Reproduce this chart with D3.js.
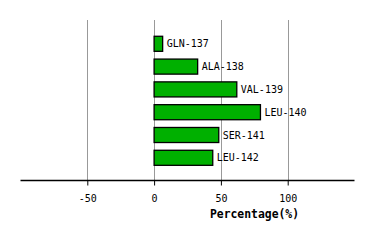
<!DOCTYPE html>
<html>
<head>
<meta charset="utf-8">
<script src="https://cdn.jsdelivr.net/npm/d3@7"></script>
<style>
  body { margin: 0; background: #fff; }
  svg { display: block; }
</style>
</head>
<body>
<div id="chart"></div>
<script>
// data
const residues = ["GLN-137", "ALA-138", "VAL-139", "LEU-140", "SER-141", "LEU-142"];
const percentages = [6.4, 32.6, 61.9, 79.6, 48.4, 43.9];
const tickValues = [-50, 0, 50, 100];

const width = 374, height = 240;

const svg = d3.select("#chart").append("svg")
  .attr("width", width)
  .attr("height", height);

const x = d3.scaleLinear().domain([-100, 150]).range([20.5, 354.5]);
const y = d3.scaleBand().domain(residues).range([32.4, 169.2]).paddingInner(0.34).paddingOuter(0.17);

const plotTop = 20, plotBottom = 180.5;

/* grid lines */
svg.append("g")
  .selectAll("line")
  .data(tickValues)
  .enter()
  .append("line")
  .attr("x1", d => Math.round(x(d)) + 0.5)
  .attr("x2", d => Math.round(x(d)) + 0.5)
  .attr("y1", plotTop)
  .attr("y2", plotBottom)
  .attr("stroke", "#999")
  .attr("stroke-width", 1);

/* bars */
svg.append("g")
  .selectAll("rect")
  .data(residues)
  .enter()
  .append("rect")
  .attr("x", x(0))
  .attr("y", d => y(d))
  .attr("width", (d, i) => x(percentages[i]) - x(0))
  .attr("height", y.bandwidth())
  .attr("fill", "#00b000")
  .attr("stroke", "#000")
  .attr("stroke-width", 1.3);

/* bar labels */
svg.append("g")
  .selectAll("text")
  .data(residues)
  .enter()
  .append("text")
  .attr("x", (d, i) => x(percentages[i]) + 4)
  .attr("y", d => y(d) + y.bandwidth() / 2)
  .attr("dy", "0.35em")
  .attr("font-family", "DejaVu Sans Mono, monospace")
  .attr("font-size", 10)
  .attr("fill", "#000")
  .text(d => d);

/* x axis */
const axis = d3.axisBottom(x)
  .tickValues(tickValues)
  .tickSize(5)
  .tickPadding(9)
  .tickFormat(d => String(d));

const gx = svg.append("g")
  .attr("transform", `translate(0,${plotBottom})`)
  .call(axis);

gx.select(".domain")
  .attr("d", `M${x(-100)},0H${x(150)}`)
  .attr("stroke", "#000")
  .attr("stroke-width", 1.5);

gx.selectAll(".tick line").attr("stroke", "#000");
gx.selectAll(".tick text")
  .attr("font-family", "DejaVu Sans Mono, monospace")
  .attr("font-size", 10)
  .attr("fill", "#000");

/* axis title */
svg.append("text")
  .attr("x", 254.5)
  .attr("y", 218)
  .attr("text-anchor", "middle")
  .attr("font-family", "DejaVu Sans Mono, monospace")
  .attr("font-weight", "bold")
  .attr("font-size", 11.4)
  .attr("fill", "#000")
  .text("Percentage(%)");
</script>
</body>
</html>
